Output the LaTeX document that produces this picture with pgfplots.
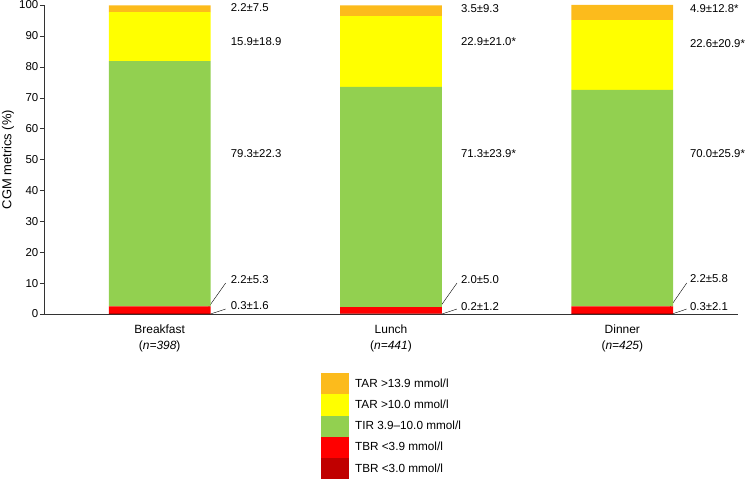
\documentclass[border=0pt]{standalone}
\usepackage{pgfplots}
\pgfplotsset{compat=1.18}
\usepackage{fontspec}
\setmainfont{Liberation Sans}
\definecolor{tarhigh}{RGB}{252,187,28}
\definecolor{tarlow}{RGB}{255,255,0}
\definecolor{tirgreen}{RGB}{146,208,80}
\definecolor{tbrhigh}{RGB}{255,0,0}
\definecolor{tbrlow}{RGB}{192,0,0}
\tikzset{ann/.style={anchor=west, inner sep=0pt, font=\fontsize{11.4}{14}\selectfont}}
\begin{document}
\begin{tikzpicture}
\begin{axis}[
  scale only axis, width=694bp, height=309bp,
  ybar stacked, bar width=0.44,
  xmin=-0.5, xmax=2.5, ymin=0, ymax=100,
  xtick={0,1,2},
  xticklabels={{Breakfast\\(\textit{n}\textit{=398})},{Lunch\\(\textit{n}\textit{=441})},{Dinner\\(\textit{n}\textit{=425})}},
  xticklabel style={align=center, font=\fontsize{12}{16.5}\selectfont, yshift=-3bp},
  ytick={0,10,20,30,40,50,60,70,80,90,100},
  yticklabels={0,10,20,30,40,50,60,70,80,90,100},
  axis lines*=left,
  axis line style={black!80, thin},
  xtick style={draw=none},
  ytick style={black!80, thin},
  tick align=outside,
  major tick length=4bp,
  ylabel={CGM metrics (\%)},
  ylabel style={font=\fontsize{13}{15}\selectfont},
  yticklabel style={font=\fontsize{11.5}{13}\selectfont, inner sep=1.5bp},
  clip=false,
  legend style={at={(axis description cs:0.399,-0.191)}, anchor=north west, draw=none,
    row sep=0pt, column sep=4bp, inner sep=0pt,
    font=\fontsize{11.8}{13}\selectfont},
  legend image code/.code={\fill[#1] (0bp,-10.6bp) rectangle (28bp,10.6bp);},
  reverse legend,
  legend cell align=left,
]
\addplot[fill=tbrlow, draw=none] coordinates {(0,0.3) (1,0.2) (2,0.3)};
\addplot[fill=tbrhigh, draw=none] coordinates {(0,2.2) (1,2.0) (2,2.2)};
\addplot[fill=tirgreen, draw=none] coordinates {(0,79.3) (1,71.3) (2,70.0)};
\addplot[fill=tarlow, draw=none] coordinates {(0,15.9) (1,22.9) (2,22.6)};
\addplot[fill=tarhigh, draw=none] coordinates {(0,2.2) (1,3.5) (2,4.9)};
\legend{TBR <3.0 mmol/l, TBR <3.9 mmol/l, TIR 3.9–10.0 mmol/l, TAR >10.0 mmol/l, TAR >13.9 mmol/l}

\node[ann] at (axis cs:0.307,99.0) {2.2±7.5};
\node[ann] at (axis cs:0.307,88.3) {15.9±18.9};
\node[ann] at (axis cs:0.307,51.8) {79.3±22.3};
\node[ann] at (axis cs:0.307,11.0) {2.2±5.3};
\node[ann] at (axis cs:0.307,2.6) {0.3±1.6};
\node[ann] at (axis cs:1.302,98.7) {3.5±9.3};
\node[ann] at (axis cs:1.302,88.3) {22.9±21.0*};
\node[ann] at (axis cs:1.302,51.8) {71.3±23.9*};
\node[ann] at (axis cs:1.302,11.0) {2.0±5.0};
\node[ann] at (axis cs:1.302,2.4) {0.2±1.2};
\node[ann] at (axis cs:2.292,98.7) {4.9±12.8*};
\node[ann] at (axis cs:2.292,87.4) {22.6±20.9*};
\node[ann] at (axis cs:2.292,51.8) {70.0±25.9*};
\node[ann] at (axis cs:2.292,11.3) {2.2±5.8};
\node[ann] at (axis cs:2.292,2.4) {0.3±2.1};
\draw[black, thin] (axis cs:0.20,1.0) -- (axis cs:0.285,10.0);
\draw[black, thin] (axis cs:0.22,0) -- (axis cs:0.285,1.6);
\draw[black, thin] (axis cs:1.20,1.0) -- (axis cs:1.285,10.0);
\draw[black, thin] (axis cs:1.22,0) -- (axis cs:1.285,1.6);
\draw[black, thin] (axis cs:2.195,1.0) -- (axis cs:2.278,10.0);
\draw[black, thin] (axis cs:2.215,0) -- (axis cs:2.278,1.6);
\coordinate (O) at (rel axis cs:0,0);
\coordinate (T) at (rel axis cs:1,1);
\end{axis}
\pgfresetboundingbox
\path ([shift={(-44bp,-168bp)}]O) rectangle ([shift={(9bp,5bp)}]T);
\end{tikzpicture}
\end{document}
